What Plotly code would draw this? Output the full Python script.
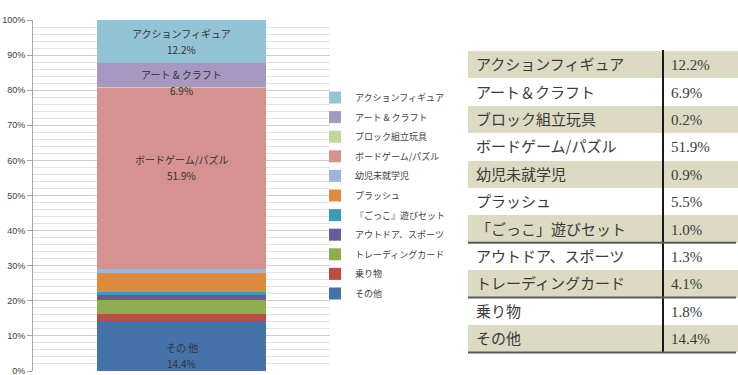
import plotly.graph_objects as go

# ---------------- data ----------------
table_names = ["アクションフィギュア", "アート＆クラフト", "ブロック組立玩具", "ボードゲーム/パズル",
               "幼児未就学児", "プラッシュ", "「ごっこ」遊びセット", "アウトドア、スポーツ",
               "トレーディングカード", "乗り物", "その他"]
legend_names = ["アクションフィギュア", "アート & クラフト", "ブロック組立玩具", "ボードゲーム/パズル",
                "幼児未就学児", "プラッシュ", "『ごっこ』遊びセット", "アウトドア、スポーツ",
                "トレーディングカード", "乗り物", "その他"]
shares = [12.2, 6.9, 0.2, 51.9, 0.9, 5.5, 1.0, 1.3, 4.1, 1.8, 14.4]
bar_labels = ["アクションフィギュア", "アート & クラフト", "", "ボードゲーム/パズル",
              "", "", "", "", "", "", "その 他"]
colors = ["#93C4D5", "#A798C2", "#C3D59B", "#D59290", "#9DB5D8", "#E08A3E",
          "#3B9DB5", "#6D5898", "#8EAC50", "#BF4B47", "#4472A9"]
label_yshift = [0, -8, 0, 11, 0, 0, 0, 0, 0, 0, -10]

W, H = 738, 375
def px(x):
    return x / W
def py(y):
    return 1 - y / H

fig = go.Figure()

# stacked 100% bar, bottom category first; legend listed top-down via legendrank
order = list(range(len(shares)))[::-1]
for i in order:
    fig.add_trace(go.Bar(
        x=[0], y=[shares[i]], name=legend_names[i], legendgroup=f"g{i:02d}",
        legendrank=i + 1,
        marker=dict(color=colors[i], line=dict(width=0)),
        hoverinfo="name+y",
    ))

# segment labels (positioned via cumulative data values)
total = sum(shares)
cum = 0.0
lab_font = dict(family="Noto Sans CJK JP", size=10, color="#333333")
for i in order:
    lo = cum
    cum += shares[i]
    if bar_labels[i]:
        mid = (lo + cum) / 2 / total * 100
        fig.add_annotation(x=0, y=mid, xref="x", yref="y", text=bar_labels[i],
                           showarrow=False, yshift=label_yshift[i] + 8, font=lab_font)
        fig.add_annotation(x=0, y=mid, xref="x", yref="y", text=f"{shares[i]:.1f}%",
                           showarrow=False, yshift=label_yshift[i] - 8, font=lab_font)

# table (first row drawn as the header row so the table starts at the top)
row_fill = ["#DCDAC2" if r % 2 == 0 else "#FFFFFF" for r in range(len(table_names))]
pct_text = [f"{v:.1f}%" for v in shares]
ROW_H = 27.4
tfont = dict(family=["Noto Sans CJK JP", "Liberation Serif"], size=[15, 15], color="#3a3a3a")
fig.add_trace(go.Table(
    domain=dict(x=[px(468), 1.0], y=[py(353), py(51)]),
    columnwidth=[195, 75],
    header=dict(values=[table_names[0], pct_text[0]], height=ROW_H,
                line=dict(width=0, color="rgba(0,0,0,0)"),
                fill=dict(color=row_fill[0]), align="left", font=tfont),
    cells=dict(
        values=[table_names[1:], pct_text[1:]],
        fill=dict(color=[row_fill[1:], row_fill[1:]]),
        line=dict(width=0, color="rgba(0,0,0,0)"),
        height=ROW_H,
        align="left",
        font=tfont,
    ),
))

# table rules
fig.add_shape(type="line", xref="paper", yref="paper", x0=px(663), x1=px(663),
              y0=py(50), y1=py(353), line=dict(color="#1a1a1a", width=2))
for rb in [7, 9, 11]:
    yy = 51 + rb * ROW_H
    fig.add_shape(type="line", xref="paper", yref="paper", x0=px(468), x1=px(736),
                  y0=py(yy), y1=py(yy), line=dict(color="#5a5a5a", width=2))

fig.update_layout(
    width=W, height=H,
    margin=dict(l=0, r=0, t=0, b=0, autoexpand=False),
    paper_bgcolor="white", plot_bgcolor="white",
    barmode="stack", barnorm="percent", bargap=0.43,
    showlegend=True,
    legend=dict(
        x=px(315), y=py(83), xanchor="left", yanchor="top",
        traceorder="grouped", tracegroupgap=0.6,
        font=dict(family="Noto Sans CJK JP", size=9, color="#404040"),
        bgcolor="rgba(0,0,0,0)", borderwidth=0,
    ),
    xaxis=dict(domain=[px(33), px(330)], range=[-0.5, 0.5], showticklabels=False,
               showgrid=False, zeroline=False, showline=False, fixedrange=True,
               automargin=False),
    yaxis=dict(domain=[py(371), py(20)], range=[0, 100], dtick=10, ticksuffix="%",
               automargin=False, ticklabeloverflow="allow",
               showgrid=True, gridcolor="#CFCFCF", gridwidth=1,
               ticks="outside", ticklen=5, tickcolor="#A6A6A6",
               showline=True, linecolor="#A6A6A6", linewidth=1,
               zeroline=False,
               tickfont=dict(family="Liberation Sans", size=9, color="#404040"),
               minor=dict(dtick=2, showgrid=True, gridcolor="#E3E3E3", gridwidth=1)),
)

fig.write_html("out.html")
